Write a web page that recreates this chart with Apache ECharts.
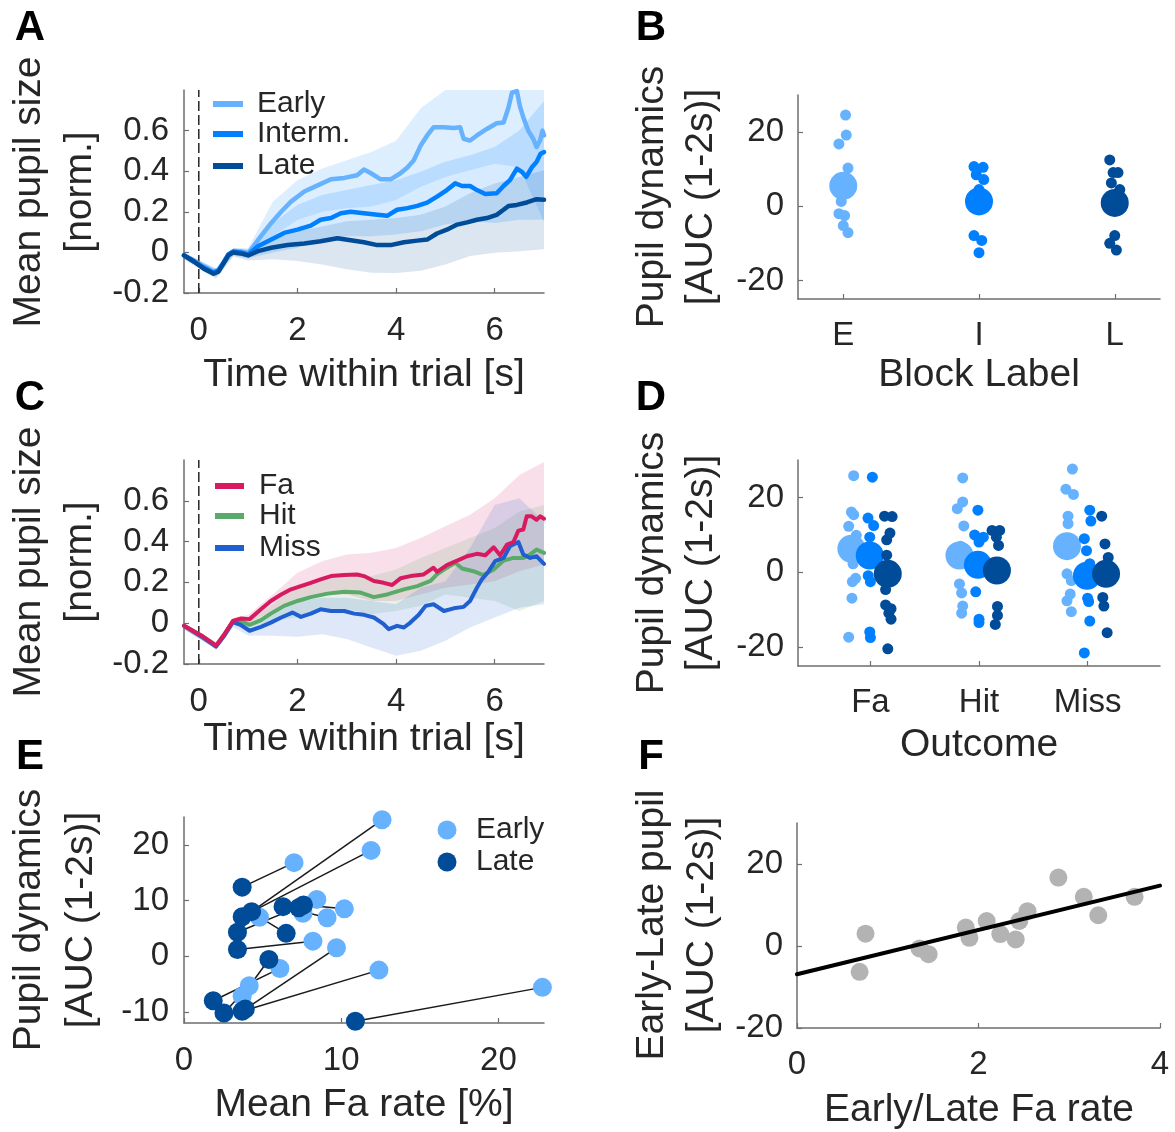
<!DOCTYPE html>
<html>
<head>
<meta charset="utf-8">
<script src="https://cdn.jsdelivr.net/npm/echarts@6/dist/echarts.min.js"></script>
<style>
  html, body { margin: 0; padding: 0; background: #ffffff; }
  #chart { width: 1175px; height: 1132px; }
</style>
</head>
<body>
<div id="chart"></div>
<script>
// ---------- Panel A: mean pupil size by block (Early / Interm. / Late) ----------
const aEarly = [[-0.3,-0.015],[-0.1,-0.04],[0.1,-0.07],[0.3,-0.095],[0.4,-0.085],[0.5,-0.05],[0.6,-0.01],[0.7,0.005],[0.85,0.005],[1.0,-0.005],[1.26,0.08],[1.47,0.145],[1.67,0.2],[1.87,0.25],[2.14,0.3],[2.41,0.33],[2.68,0.36],[2.95,0.367],[3.21,0.38],[3.35,0.408],[3.49,0.39],[3.69,0.36],[3.89,0.36],[4.09,0.39],[4.23,0.418],[4.36,0.454],[4.5,0.527],[4.63,0.576],[4.76,0.616],[4.97,0.616],[5.17,0.613],[5.3,0.616],[5.37,0.56],[5.5,0.551],[5.64,0.576],[5.84,0.608],[6.04,0.636],[6.18,0.64],[6.28,0.714],[6.35,0.787],[6.45,0.795],[6.51,0.722],[6.58,0.665],[6.68,0.6],[6.78,0.56],[6.85,0.519],[6.92,0.551],[6.97,0.6],[7.0,0.576]];
const aInterm = [[-0.3,-0.015],[-0.1,-0.045],[0.1,-0.075],[0.3,-0.1],[0.4,-0.09],[0.5,-0.05],[0.6,-0.01],[0.7,0.005],[0.85,0.0],[1.0,-0.01],[1.2,0.03],[1.47,0.063],[1.73,0.096],[2.0,0.112],[2.27,0.132],[2.47,0.161],[2.68,0.169],[2.88,0.193],[3.08,0.2],[3.35,0.193],[3.62,0.185],[3.82,0.18],[4.02,0.21],[4.23,0.218],[4.43,0.229],[4.63,0.245],[4.83,0.275],[5.03,0.307],[5.2,0.34],[5.34,0.327],[5.5,0.327],[5.64,0.307],[5.81,0.288],[6.04,0.291],[6.18,0.327],[6.31,0.356],[6.45,0.413],[6.55,0.397],[6.64,0.372],[6.75,0.418],[6.85,0.446],[6.93,0.486],[7.0,0.494]];
const aLate = [[-0.3,-0.015],[-0.1,-0.045],[0.1,-0.08],[0.3,-0.105],[0.4,-0.095],[0.5,-0.055],[0.6,-0.015],[0.7,0.0],[0.85,-0.005],[1.0,-0.015],[1.2,0.006],[1.47,0.023],[1.8,0.036],[2.14,0.044],[2.47,0.055],[2.81,0.07],[3.08,0.06],[3.35,0.05],[3.62,0.036],[3.89,0.036],[4.16,0.05],[4.43,0.058],[4.63,0.063],[4.83,0.093],[5.03,0.112],[5.24,0.137],[5.44,0.148],[5.64,0.161],[5.84,0.169],[6.04,0.185],[6.18,0.21],[6.28,0.229],[6.45,0.234],[6.65,0.246],[6.85,0.262],[7.0,0.259]];

// shaded error bands share one time base
const bandT = [-0.3, 0.35, 0.7, 1.0, 1.5, 2, 2.5, 3, 3.5, 4, 4.5, 5, 5.5, 6, 6.5, 7];
const aEarlyLo  = [-0.03,-0.115,-0.01,-0.025,0.08,0.16,0.2,0.218,0.226,0.258,0.323,0.372,0.405,0.437,0.42,0.15];
const aEarlyHi  = [0.0,-0.08,0.02,0.02,0.25,0.356,0.413,0.454,0.494,0.55,0.71,0.8,0.8,0.8,0.8,0.8];
const aIntermLo = [-0.03,-0.12,-0.015,-0.03,0.0,0.023,0.055,0.08,0.08,0.088,0.104,0.137,0.153,0.145,0.161,0.161];
const aIntermHi = [0.0,-0.08,0.02,0.015,0.145,0.234,0.283,0.307,0.332,0.356,0.397,0.446,0.478,0.519,0.6,0.746];
const aLateLo   = [-0.035,-0.13,-0.02,-0.04,-0.034,-0.042,-0.059,-0.083,-0.1,-0.102,-0.091,-0.059,-0.018,-0.002,0.006,0.015];
const aLateHi   = [-0.005,-0.085,0.02,0.01,0.063,0.104,0.128,0.153,0.161,0.169,0.185,0.226,0.291,0.34,0.372,0.405];

// ---------- Panel C: mean pupil size by outcome (Fa / Hit / Miss) ----------
const cFa = [[-0.3,-0.013],[0.05,-0.06],[0.35,-0.11],[0.52,-0.054],[0.69,0.011],[0.86,0.023],[1.03,0.02],[1.26,0.068],[1.46,0.109],[1.67,0.141],[1.87,0.166],[2.07,0.182],[2.27,0.198],[2.47,0.215],[2.68,0.231],[2.95,0.236],[3.21,0.239],[3.35,0.231],[3.55,0.207],[3.75,0.198],[3.92,0.187],[4.09,0.22],[4.29,0.231],[4.56,0.239],[4.76,0.272],[4.83,0.252],[5.03,0.285],[5.24,0.307],[5.44,0.328],[5.64,0.34],[5.81,0.333],[5.98,0.372],[6.11,0.333],[6.25,0.385],[6.38,0.398],[6.48,0.454],[6.58,0.459],[6.65,0.524],[6.75,0.524],[6.85,0.507],[6.92,0.524],[7.0,0.512]];
const cHit = [[-0.3,-0.013],[0.05,-0.06],[0.35,-0.11],[0.52,-0.054],[0.69,0.008],[0.86,0.01],[1.03,-0.008],[1.26,0.015],[1.46,0.047],[1.73,0.085],[2.0,0.109],[2.27,0.128],[2.61,0.145],[2.95,0.154],[3.28,0.15],[3.55,0.128],[3.82,0.141],[4.16,0.166],[4.43,0.182],[4.7,0.207],[4.83,0.239],[5.03,0.272],[5.2,0.296],[5.34,0.268],[5.57,0.255],[5.77,0.236],[5.98,0.263],[6.18,0.307],[6.38,0.32],[6.58,0.32],[6.72,0.337],[6.85,0.361],[7.0,0.345]];
const cMiss = [[-0.3,-0.013],[0.05,-0.065],[0.35,-0.115],[0.52,-0.06],[0.69,0.005],[0.86,-0.01],[1.03,-0.037],[1.26,-0.018],[1.46,0.003],[1.67,0.028],[1.9,0.052],[2.07,0.031],[2.27,0.047],[2.47,0.068],[2.68,0.06],[2.95,0.06],[3.15,0.047],[3.35,0.041],[3.55,0.028],[3.75,-0.005],[3.85,-0.029],[4.02,-0.013],[4.16,-0.021],[4.29,0.003],[4.46,0.041],[4.6,0.085],[4.76,0.093],[4.97,0.06],[5.17,0.073],[5.37,0.08],[5.5,0.109],[5.64,0.174],[5.74,0.215],[5.88,0.255],[6.01,0.304],[6.18,0.32],[6.31,0.377],[6.48,0.398],[6.58,0.337],[6.72,0.32],[6.85,0.328],[7.0,0.291]];
const cFaLo   = [-0.03,-0.125,0.0,0.0,0.06,0.109,0.141,0.141,0.109,0.109,0.141,0.174,0.19,0.206,0.255,0.288];
const cFaHi   = [0.0,-0.095,0.025,0.04,0.141,0.247,0.304,0.337,0.345,0.369,0.418,0.475,0.532,0.613,0.727,0.79];
const cHitLo  = [-0.03,-0.125,-0.005,-0.02,0.011,0.028,0.06,0.068,0.044,0.06,0.085,0.141,0.125,0.109,0.06,0.109];
const cHitHi  = [0.0,-0.095,0.025,0.01,0.093,0.19,0.223,0.231,0.231,0.263,0.32,0.369,0.418,0.467,0.548,0.58];
const cMissLo = [-0.03,-0.13,-0.02,-0.06,-0.062,-0.067,-0.054,-0.078,-0.119,-0.159,-0.135,-0.086,-0.021,0.028,0.076,0.093];
const cMissHi = [0.0,-0.095,0.02,-0.015,0.06,0.109,0.125,0.125,0.109,0.093,0.174,0.206,0.369,0.58,0.613,0.5];

// ---------- Panel B: AUC per subject by block label ----------
const blockLabels = ['E', 'I', 'L'];
const bEarly  = [[1.017,24.6],[1.022,19.2],[0.968,16.8],[1.035,10.3],[1.0,7.0],[1.01,3.5],[0.985,1.3],[0.968,-2.0],[1.01,-2.5],[1.0,-5.2],[1.035,-7.1]];
const bInterm = [[1.963,10.7],[2.03,10.5],[1.98,8.5],[2.035,7.2],[2.0,4.5],[1.98,2.0],[1.963,-7.9],[2.02,-9.2],[2.0,-12.5]];
const bLate   = [[2.963,12.5],[2.988,9.1],[3.024,9.1],[2.975,6.3],[3.037,4.5],[3.0,-7.9],[2.963,-10.0],[3.012,-11.8]];
const bMeans  = [[1.0,5.5],[2.0,1.3],[3.0,0.9]];

// ---------- Panel D: AUC per subject by outcome and block ----------
const outcomeLabels = ['Fa', 'Hit', 'Miss'];
const dEarly  = [[0.846,25.8],[0.825,16.1],[0.846,15.4],[0.80,12.3],[0.87,9.9],[0.82,8.0],[0.85,4.0],[0.84,2.3],[0.864,-1.6],[0.834,-2.5],[0.83,-6.9],[0.80,-17.3],
                 [1.85,25.2],[1.85,18.8],[1.80,17.0],[1.86,12.4],[1.83,7.0],[1.82,-3.1],[1.84,-5.5],[1.85,-9.0],[1.84,-10.9],
                 [2.86,27.6],[2.80,22.2],[2.87,20.8],[2.82,15.0],[2.82,13.0],[2.81,-0.4],[2.85,-2.2],[2.84,-5.8],[2.81,-7.6],[2.85,-10.5]];
const dInterm = [[1.018,25.4],[0.978,14.5],[1.03,12.5],[0.994,9.4],[0.98,-0.9],[1.0,-2.5],[0.994,-15.9],[1.0,-17.4],
                 [1.99,16.6],[1.96,10.0],[2.04,9.4],[2.0,8.1],[1.97,-5.2],[2.0,-12.5],[2.0,-13.4],
                 [3.02,16.6],[3.03,13.7],[2.97,9.0],[2.99,5.8],[3.02,2.3],[3.0,-6.9],[3.01,-7.8],[3.02,-13.0],[2.97,-21.5]];
const dLate   = [[1.13,15.0],[1.2,14.9],[1.18,10.5],[1.15,8.7],[1.15,4.6],[1.14,-4.6],[1.14,-8.7],[1.19,-9.7],[1.17,-10.9],[1.19,-12.5],[1.16,-20.4],
                 [2.12,11.2],[2.19,11.2],[2.16,9.4],[2.18,7.2],[2.17,-9.1],[2.17,-11.5],[2.15,-13.9],
                 [3.13,15.0],[3.16,7.6],[3.19,4.0],[3.14,-6.7],[3.15,-9.0],[3.18,-16.1]];
const dEarlyMean  = [[0.825,6.3],[1.82,4.5],[2.81,7.0]];
const dIntermMean = [[0.994,4.5],[1.99,2.0],[2.994,-0.9]];
const dLateMean   = [[1.16,-0.4],[2.165,0.5],[3.17,-0.4]];

// ---------- Panel E: AUC vs false-alarm rate, paired per subject ----------
const eEarly = [[7.0,16.8],[12.6,24.5],[11.9,19.0],[8.45,10.2],[4.8,7.0],[10.2,8.5],[9.1,6.9],[7.57,7.7],[8.2,2.7],[3.7,-7.2],[6.1,-2.2],[12.4,-2.5],[4.15,-5.3],[9.7,1.5],[22.8,-5.6]];
const eLate  = [[3.7,12.4],[4.3,8.0],[3.7,7.1],[3.4,4.3],[6.5,4.1],[7.6,9.2],[6.3,8.9],[7.3,8.7],[3.4,1.2],[5.4,-0.6],[1.86,-8.0],[3.7,-9.9],[2.54,-10.2],[3.9,-9.5],[10.9,-11.7]];

// ---------- Panel F: Early-Late AUC difference vs Early/Late Fa ratio ----------
const fRatio = [0.69,0.755,1.35,1.45,1.86,1.9,2.09,2.24,2.41,2.45,2.54,2.88,3.16,3.32,3.72];
const fDiff  = [-6.3,3.0,-0.6,-2.0,4.5,2.0,6.1,2.9,1.6,6.1,8.5,16.7,12.0,7.5,12.0];

// ---------- styling ----------
const FONT = '"Liberation Sans", Arial, Helvetica, sans-serif';
const TXT = '#262626';
const AX = '#6e6e6e';
const C_EARLY = '#66b2ff', C_INTERM = '#0080ff', C_LATE = '#004c99';
const C_FA = '#d81b60', C_HIT = '#5aaa6a', C_MISS = '#1f5fcf';
const TICK_FS = 33, TITLE_FS = 39;

// least-squares fit for panel F
const fFit = (() => {
  const n = fRatio.length;
  const mx = fRatio.reduce((s, v) => s + v, 0) / n;
  const my = fDiff.reduce((s, v) => s + v, 0) / n;
  let sxy = 0, sxx = 0;
  for (let i = 0; i < n; i++) { sxy += (fRatio[i] - mx) * (fDiff[i] - my); sxx += (fRatio[i] - mx) ** 2; }
  const m = sxy / sxx, b = my - m * mx;
  return [[0, b], [4, b + 4 * m]];
})();

function axis(gi, min, max, ticks, margin, fmt) {
  return {
    type: 'value', gridIndex: gi, min: min, max: max,
    axisLine: { show: true, onZero: false, lineStyle: { color: AX, width: 1.5 } },
    axisTick: { show: true, inside: true, length: 5, customValues: ticks, lineStyle: { color: AX, width: 1.2 } },
    axisLabel: { show: true, customValues: ticks, margin: margin, color: TXT, fontSize: TICK_FS, fontFamily: FONT,
                 formatter: fmt || (v => String(v)) },
    splitLine: { show: false }
  };
}

function band(gi, t, lo, hi, fill) {
  return {
    type: 'custom', xAxisIndex: gi, yAxisIndex: gi, silent: true, clip: true, data: [[0, 0]],
    renderItem: (params, api) => {
      const pts = [];
      for (let i = 0; i < t.length; i++) pts.push(api.coord([t[i], hi[i]]));
      for (let i = t.length - 1; i >= 0; i--) pts.push(api.coord([t[i], lo[i]]));
      return { type: 'polygon', shape: { points: pts }, style: { fill: fill } };
    }
  };
}

function trace(gi, pts, color, width) {
  return { type: 'line', xAxisIndex: gi, yAxisIndex: gi, data: pts, symbol: 'none', showSymbol: false,
           silent: true, clip: true, lineStyle: { color: color, width: width, join: 'round', cap: 'round' } };
}

function onset(gi) {
  return { type: 'line', xAxisIndex: gi, yAxisIndex: gi, data: [[0, -0.2], [0, 0.8]], symbol: 'none',
           silent: true, lineStyle: { color: '#262626', width: 1.5, type: [10, 4] } };
}

function dots(gi, pts, color, size) {
  return { type: 'scatter', xAxisIndex: gi, yAxisIndex: gi, data: pts, symbol: 'circle', symbolSize: size,
           silent: true, itemStyle: { color: color, opacity: 1 } };
}

function label(x, y, text, size, opt) {
  opt = opt || {};
  const al = opt.align || 'center';
  return { type: 'text', x: x, y: y, rotation: opt.rot || 0, silent: true, z: 100,
           style: { text: text, font: (opt.bold ? 'bold ' : '') + size + 'px ' + FONT, fill: opt.color || TXT,
                    textAlign: al, textVerticalAlign: 'middle', align: al, verticalAlign: 'middle' } };
}
function legLine(x1, x2, y, color) {
  return { type: 'line', silent: true, z: 100, shape: { x1: x1, y1: y, x2: x2, y2: y },
           style: { stroke: color, lineWidth: 6 } };
}
function legDot(cx, cy, r, color) {
  return { type: 'circle', silent: true, z: 100, shape: { cx: cx, cy: cy, r: r }, style: { fill: color } };
}

const R = Math.PI / 2;
const option = {
  animation: false,
  backgroundColor: '#ffffff',
  grid: [
    { left: 184, top: 90,  width: 360, height: 203 },  // A
    { left: 798, top: 95,  width: 362, height: 204 },  // B
    { left: 184, top: 460, width: 360, height: 204 },  // C
    { left: 798, top: 460, width: 362, height: 206 },  // D
    { left: 184, top: 817, width: 360, height: 206 },  // E
    { left: 797, top: 823, width: 363, height: 205 }   // F
  ],
  xAxis: [
    axis(0, -0.3, 7, [0, 2, 4, 6], 21),
    axis(1, 2 / 3, 10 / 3, [1, 2, 3], 20, v => blockLabels[Math.round(v) - 1]),
    axis(2, -0.3, 7, [0, 2, 4, 6], 21),
    axis(3, 1 / 3, 11 / 3, [1, 2, 3], 20, v => outcomeLabels[Math.round(v) - 1]),
    axis(4, 0, 22.9, [0, 10, 20], 21),
    axis(5, 0, 4, [0, 2, 4], 20)
  ],
  yAxis: [
    axis(0, -0.2, 0.8, [-0.2, 0, 0.2, 0.4, 0.6], 15),
    axis(1, -25, 30, [-20, 0, 20], 14),
    axis(2, -0.2, 0.8, [-0.2, 0, 0.2, 0.4, 0.6], 15),
    axis(3, -25, 30, [-20, 0, 20], 14),
    axis(4, -12, 25, [-10, 0, 10, 20], 15),
    axis(5, -20, 30, [-20, 0, 20], 14)
  ],
  series: [
    // A
    band(0, bandT, aEarlyLo, aEarlyHi, 'rgba(102,178,255,0.22)'),
    band(0, bandT, aIntermLo, aIntermHi, 'rgba(0,128,255,0.16)'),
    band(0, bandT, aLateLo, aLateHi, 'rgba(0,76,153,0.14)'),
    onset(0),
    trace(0, aEarly, C_EARLY, 4.5),
    trace(0, aInterm, C_INTERM, 4.5),
    trace(0, aLate, C_LATE, 4.5),
    // B
    dots(1, bEarly, C_EARLY, 11), dots(1, bInterm, C_INTERM, 11), dots(1, bLate, C_LATE, 11),
    dots(1, [bMeans[0]], C_EARLY, 28), dots(1, [bMeans[1]], C_INTERM, 28), dots(1, [bMeans[2]], C_LATE, 28),
    // C
    band(2, bandT, cFaLo, cFaHi, 'rgba(216,27,96,0.14)'),
    band(2, bandT, cHitLo, cHitHi, 'rgba(90,170,106,0.15)'),
    band(2, bandT, cMissLo, cMissHi, 'rgba(31,95,207,0.14)'),
    onset(2),
    trace(2, cHit, C_HIT, 4),
    trace(2, cMiss, C_MISS, 4),
    trace(2, cFa, C_FA, 4),
    // D
    dots(3, dEarly, C_EARLY, 11), dots(3, dEarlyMean, C_EARLY, 28),
    dots(3, dInterm, C_INTERM, 11), dots(3, dIntermMean, C_INTERM, 28),
    dots(3, dLate, C_LATE, 11), dots(3, dLateMean, C_LATE, 28),
    // E
    { type: 'lines', coordinateSystem: 'cartesian2d', xAxisIndex: 4, yAxisIndex: 4, silent: true,
      data: eLate.map((p, i) => ({ coords: [p, eEarly[i]] })),
      lineStyle: { color: '#1a1a1a', width: 1.5, opacity: 1 } },
    dots(4, eEarly, C_EARLY, 19),
    dots(4, eLate, C_LATE, 19),
    // F
    dots(5, fRatio.map((x, i) => [x, fDiff[i]]), '#b3b3b3', 18),
    trace(5, fFit, '#000000', 4)
  ],
  graphic: { elements: [
    // panel letters
    label(30, 28, 'A', 42, { bold: true, color: '#000' }),
    label(651, 28, 'B', 42, { bold: true, color: '#000' }),
    label(30, 398, 'C', 42, { bold: true, color: '#000' }),
    label(651, 398, 'D', 42, { bold: true, color: '#000' }),
    label(30, 757, 'E', 42, { bold: true, color: '#000' }),
    label(651, 757, 'F', 42, { bold: true, color: '#000' }),
    // axis titles
    label(29, 192, 'Mean pupil size', TITLE_FS, { rot: R }), label(80, 192, '[norm.]', TITLE_FS, { rot: R }),
    label(364, 375, 'Time within trial [s]', TITLE_FS),
    label(652, 197, 'Pupil dynamics', TITLE_FS, { rot: R }), label(701, 197, '[AUC (1-2s)]', TITLE_FS, { rot: R }),
    label(979, 375, 'Block Label', TITLE_FS),
    label(29, 562, 'Mean pupil size', TITLE_FS, { rot: R }), label(80, 562, '[norm.]', TITLE_FS, { rot: R }),
    label(364, 739, 'Time within trial [s]', TITLE_FS),
    label(652, 563, 'Pupil dynamics', TITLE_FS, { rot: R }), label(701, 563, '[AUC (1-2s)]', TITLE_FS, { rot: R }),
    label(979, 745, 'Outcome', TITLE_FS),
    label(29, 920, 'Pupil dynamics', TITLE_FS, { rot: R }), label(81, 920, '[AUC (1-2s)]', TITLE_FS, { rot: R }),
    label(364, 1105, 'Mean Fa rate [%]', TITLE_FS),
    label(652, 925, 'Early-Late pupil', TITLE_FS, { rot: R }), label(702, 925, '[AUC (1-2s)]', TITLE_FS, { rot: R }),
    label(979, 1110, 'Early/Late Fa rate', TITLE_FS),
    // legend A
    legLine(213, 243, 104, C_EARLY), label(257, 104, 'Early', 30, { align: 'left' }),
    legLine(213, 243, 134, C_INTERM), label(257, 134, 'Interm.', 30, { align: 'left' }),
    legLine(213, 243, 166, C_LATE), label(257, 166, 'Late', 30, { align: 'left' }),
    // legend C
    legLine(215, 244, 486, C_FA), label(259, 486, 'Fa', 30, { align: 'left' }),
    legLine(215, 244, 516, C_HIT), label(259, 516, 'Hit', 30, { align: 'left' }),
    legLine(215, 244, 548, C_MISS), label(259, 548, 'Miss', 30, { align: 'left' }),
    // legend E
    legDot(447, 830, 9.5, C_EARLY), label(476, 830, 'Early', 30, { align: 'left' }),
    legDot(447, 862, 9.5, C_LATE), label(476, 862, 'Late', 30, { align: 'left' })
  ] }
};

const chart = echarts.init(document.getElementById('chart'), null, { renderer: 'canvas' });
chart.setOption(option);
</script>
</body>
</html>
